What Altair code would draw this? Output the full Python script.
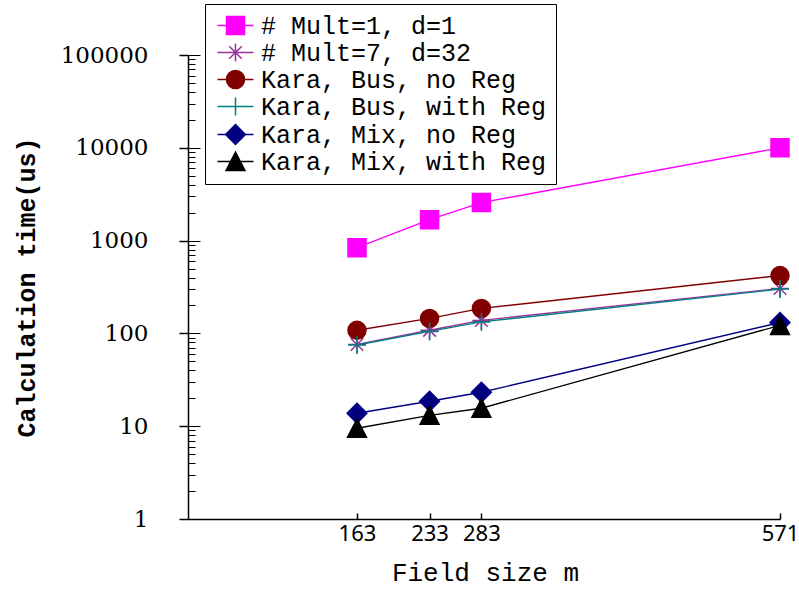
import altair as alt
import pandas as pd

field_sizes = [163, 233, 283, 571]
series_names = [
    "# Mult=1, d=1",
    "# Mult=7, d=32",
    "Kara, Bus, no Reg",
    "Kara, Bus, with Reg",
    "Kara, Mix, no Reg",
    "Kara, Mix, with Reg",
]
mult1 = [840, 1680, 2570, 10000]
mult7 = [76, 108, 138, 305]
bus_noreg = [108, 145, 186, 420]
bus_reg = [75, 105, 133, 300]
mix_noreg = [13.8, 18.6, 23.2, 131]
mix_reg = [9.5, 13.1, 15.6, 122]
all_values = [mult1, mult7, bus_noreg, bus_reg, mix_noreg, mix_reg]

colors = ["#ff00ff", "#993399", "#800000", "#008080", "#000080", "#000000"]
point_shapes = [
    "square",
    "M0,-1L0,1M-1,0L1,0M-0.7,-0.7L0.7,0.7M-0.7,0.7L0.7,-0.7",
    "circle",
    "M0,-1L0,1M-1,0L1,0",
    "M0,-1.1L1.1,0L0,1.1L-1.1,0Z",
    "M0,-1.05L1.05,1L-1.05,1Z",
]
legend_shapes = [
    "M-2,0L2,0M-1,-1L1,-1L1,1L-1,1Z",
    "M-2,0L2,0M0,-1L0,1M-0.7,-0.7L0.7,0.7M-0.7,0.7L0.7,-0.7",
    "M-2,0L2,0M-1,0A1,1,0,1,0,1,0A1,1,0,1,0,-1,0Z",
    "M-2,0L2,0M0,-1L0,1",
    "M-2,0L2,0M0,-1.1L1.1,0L0,1.1L-1.1,0Z",
    "M-2,0L2,0M0,-1.05L1.05,1L-1.05,1Z",
]
major_ticks = [1, 10, 100, 1000, 10000, 100000]
minor_ticks = [m * 10 ** k for k in range(5) for m in range(1, 10)] + [100000]

rows = []
for name, vals in zip(series_names, all_values):
    for m, t in zip(field_sizes, vals):
        rows.append({"series": name, "m": m, "t": t})
df = pd.DataFrame(rows)

W, H = 592, 464
xscale = alt.Scale(domain=[0, 571], nice=False, zero=False)
yscale = alt.Scale(type="log", domain=[1, 100000], nice=False)

main_x_axis = alt.Axis(
    values=field_sizes, format="d", ticks=False, labelFont="Noto Sans",
    labelFontSize=22, labelColor="black", labelPadding=4, labelFlush=False,
    domainColor="black", domainWidth=1.5, grid=False,
    title="Field size m", titleFont="Liberation Mono", titleFontSize=26,
    titleFontWeight="normal", titleColor="black", titleX=297, titleY=53,
    titleBaseline="middle", titleAlign="center",
)
main_y_axis = alt.Axis(
    values=major_ticks, format="d", tickSize=9, tickColor="black", tickWidth=1.5,
    labelFont="DejaVu Serif", labelFontSize=23, labelColor="black",
    labelPadding=31, domainColor="black", domainWidth=1.5, grid=False,
    title="Calculation time(us)", titleFont="Liberation Mono", titleFontSize=25,
    titleFontWeight="bold", titleColor="black", titleX=-162, titleY=232,
    titleBaseline="middle", titleAlign="center", titleAngle=270,
)

layers = []
for i, (name, c) in enumerate(zip(series_names, colors)):
    layers.append(
        alt.Chart(df).transform_filter(alt.datum.series == name)
        .mark_line(color=c, strokeWidth=1.4)
        .encode(
            x=alt.X("m:Q", scale=xscale, axis=main_x_axis if i == 0 else None),
            y=alt.Y("t:Q", scale=yscale, axis=main_y_axis if i == 0 else None),
        )
    )
for name, c, shp in zip(series_names, colors, point_shapes):
    layers.append(
        alt.Chart(df).transform_filter(alt.datum.series == name)
        .mark_point(shape=shp, filled=True, size=324, fill=c, stroke=c,
                    strokeWidth=1.5, opacity=1)
        .encode(
            x=alt.X("m:Q", scale=xscale, axis=None),
            y=alt.Y("t:Q", scale=yscale, axis=None),
        )
    )

leg = alt.Legend(
    title=None, orient="none", legendX=17, legendY=-51, fillColor="white",
    strokeColor="black", padding=9, symbolOffset=9, labelOffset=13,
    labelFont="Liberation Mono", labelFontSize=25, labelColor="black",
    rowPadding=1, symbolSize=324, symbolStrokeWidth=1.5, symbolOpacity=1,
    labelLimit=1000,
)
legend_layer = alt.Chart(df).mark_point(opacity=0, size=324, filled=True).encode(
    x=alt.X("m:Q", scale=xscale, axis=alt.Axis(
        orient="top", offset=-H, values=field_sizes, labels=False, domain=False,
        tickSize=6, tickColor="black", tickWidth=1.5, title=None, grid=False)),
    y=alt.Y("t:Q", scale=yscale, axis=alt.Axis(
        orient="right", offset=-W, values=minor_ticks, labels=False, domain=False,
        tickSize={"condition": {"test": "indexof([1,10,100,1000,10000,100000], datum.value) >= 0", "value": 12}, "value": 7},
        tickColor="black", tickWidth=1, title=None, grid=False)),
    shape=alt.Shape("series:N", scale=alt.Scale(domain=series_names, range=legend_shapes), legend=leg),
    fill=alt.Fill("series:N", scale=alt.Scale(domain=series_names, range=colors), legend=leg),
    stroke=alt.Stroke("series:N", scale=alt.Scale(domain=series_names, range=colors), legend=leg),
)
layers.append(legend_layer)

chart = alt.layer(*layers).resolve_axis(x="independent", y="independent").properties(
    width=W, height=H,
    autosize=alt.AutoSizeParams(type="none"),
    padding={"left": 188, "top": 55, "right": 19, "bottom": 71},
    background="white",
).configure_view(stroke=None)

chart.save("out.html", embed_options={"renderer": "svg", "actions": False})
